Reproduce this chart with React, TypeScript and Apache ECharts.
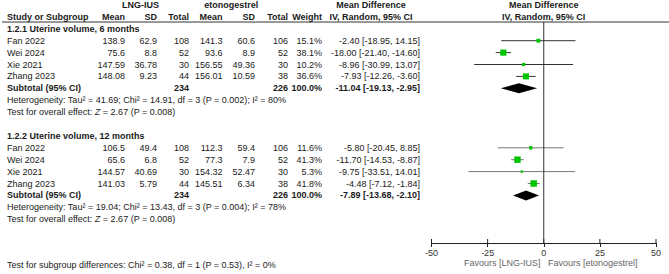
import React, { useEffect, useRef } from "react";
import * as echarts from "echarts";

// ---------- data ----------
const studies = ["Fan 2022", "Wei 2024", "Xie 2021", "Zhang 2023"];

const g1Title = "1.2.1 Uterine volume, 6 months";
const g1LngMean = [138.9, 75.6, 147.59, 148.08];
const g1LngSD = [62.9, 8.8, 36.78, 9.23];
const g1LngN = [108, 52, 30, 44];
const g1EtoMean = [141.3, 93.6, 156.55, 156.01];
const g1EtoSD = [60.6, 8.9, 49.36, 10.59];
const g1EtoN = [106, 52, 30, 38];
const g1Weight = [15.1, 38.1, 10.2, 36.6];
const g1MD = [-2.4, -18.0, -8.96, -7.93];
const g1Lo = [-18.95, -21.4, -30.99, -12.26];
const g1Hi = [14.15, -14.6, 13.07, -3.6];
const g1Sub = [-11.04, -19.13, -2.95];
const g1Het = "Heterogeneity: Tau² = 41.69; Chi² = 14.91, df = 3 (P = 0.002); I² = 80%";
const g1Overall = "Test for overall effect: {i|Z} = 2.67 (P = 0.008)";

const g2Title = "1.2.2 Uterine volume, 12 months";
const g2LngMean = [106.5, 65.6, 144.57, 141.03];
const g2LngSD = [49.4, 6.8, 40.69, 5.79];
const g2LngN = [108, 52, 30, 44];
const g2EtoMean = [112.3, 77.3, 154.32, 145.51];
const g2EtoSD = [59.4, 7.9, 52.47, 6.34];
const g2EtoN = [106, 52, 30, 38];
const g2Weight = [11.6, 41.3, 5.3, 41.8];
const g2MD = [-5.8, -11.7, -9.75, -4.48];
const g2Lo = [-20.45, -14.53, -33.51, -7.12];
const g2Hi = [8.85, -8.87, 14.01, -1.84];
const g2Sub = [-7.89, -13.68, -2.1];
const g2Het = "Heterogeneity: Tau² = 19.04; Chi² = 13.43, df = 3 (P = 0.004); I² = 78%";
const g2Overall = "Test for overall effect: {i|Z} = 2.67 (P = 0.008)";

const subgroupTest = "Test for subgroup differences: Chi² = 0.38, df = 1 (P = 0.53), I² = 0%";
const favLeft = "Favours [LNG-IUS]";
const favRight = "Favours [etonogestrel]";
const xTicks = [-50, -25, 0, 25, 50];

// ---------- layout ----------
const W = 669;
const H = 274;
const TOP = 5;
const ROW_H = 11.9;
const TABLE_ROWS = 22;
const AXIS_ROW = 20;
const HEADER_LINE_ROW = 1.43;
const PLOT_LEFT = 431.5;
const PLOT_WIDTH = 224.5;
const FONT = '"Liberation Sans", Arial, Helvetica, sans-serif';
const FS = 9;

const COL = {
  name: 7,
  m1: 125,
  sd1: 157,
  n1: 189,
  m2: 222.5,
  sd2: 255,
  n2: 288,
  w: 322,
  md: 420,
};

type Cell = {
  x: number;
  row: number;
  text: string;
  align: "left" | "right" | "center";
  bold?: boolean;
  color?: string;
};

const cells: Cell[] = [];
const push = (x: number, row: number, text: string, align: Cell["align"], bold = false, color = "#1a1a1a") =>
  cells.push({ x, row, text, align, bold, color });

// headers
push(140.5, 0, "LNG-IUS", "center", true);
push(231.3, 0, "etonogestrel", "center", true);
push(371, 0, "Mean Difference", "center", true);
push(543.7, 0, "Mean Difference", "center", true);
push(COL.name, 1, "Study or Subgroup", "left", true);
push(COL.m1, 1, "Mean", "right", true);
push(COL.sd1, 1, "SD", "right", true);
push(COL.n1, 1, "Total", "right", true);
push(COL.m2, 1, "Mean", "right", true);
push(COL.sd2, 1, "SD", "right", true);
push(COL.n2, 1, "Total", "right", true);
push(COL.w, 1, "Weight", "right", true);
push(371, 1, "IV, Random, 95% CI", "center", true);
push(543.7, 1, "IV, Random, 95% CI", "center", true);

const fmtCI = (m: number, l: number, h: number) => `${m.toFixed(2)} [${l.toFixed(2)}, ${h.toFixed(2)}]`;
const sum = (a: number[]) => a.reduce((s, v) => s + v, 0);

type Group = {
  title: string; start: number;
  lm: number[]; lsd: number[]; ln: number[];
  em: number[]; esd: number[]; en: number[];
  w: number[]; md: number[]; lo: number[]; hi: number[];
  sub: number[]; het: string; overall: string; ciColor: string;
};

const groups: Group[] = [
  { title: g1Title, start: 2, lm: g1LngMean, lsd: g1LngSD, ln: g1LngN, em: g1EtoMean, esd: g1EtoSD, en: g1EtoN,
    w: g1Weight, md: g1MD, lo: g1Lo, hi: g1Hi, sub: g1Sub, het: g1Het, overall: g1Overall, ciColor: "#333" },
  { title: g2Title, start: 11, lm: g2LngMean, lsd: g2LngSD, ln: g2LngN, em: g2EtoMean, esd: g2EtoSD, en: g2EtoN,
    w: g2Weight, md: g2MD, lo: g2Lo, hi: g2Hi, sub: g2Sub, het: g2Het, overall: g2Overall, ciColor: "#777" },
];

const studyMarks: any[][] = []; // [md, row, lo, hi, weight, color]
const diamonds: number[][] = []; // [md, row, lo, hi]

groups.forEach((g) => {
  push(COL.name, g.start, g.title, "left", true);
  studies.forEach((s, i) => {
    const r = g.start + 1 + i;
    push(COL.name, r, s, "left");
    push(COL.m1, r, String(g.lm[i]), "right");
    push(COL.sd1, r, String(g.lsd[i]), "right");
    push(COL.n1, r, String(g.ln[i]), "right");
    push(COL.m2, r, String(g.em[i]), "right");
    push(COL.sd2, r, String(g.esd[i]), "right");
    push(COL.n2, r, String(g.en[i]), "right");
    push(COL.w, r, g.w[i].toFixed(1) + "%", "right");
    push(COL.md, r, fmtCI(g.md[i], g.lo[i], g.hi[i]), "right");
    studyMarks.push([g.md[i], r, g.lo[i], g.hi[i], g.w[i], g.ciColor]);
  });
  const sr = g.start + 1 + studies.length;
  push(COL.name, sr, "Subtotal (95% CI)", "left", true);
  push(COL.n1, sr, String(sum(g.ln)), "right", true);
  push(COL.n2, sr, String(sum(g.en)), "right", true);
  push(COL.w, sr, sum(g.w).toFixed(1) + "%", "right", true);
  push(COL.md, sr, fmtCI(g.sub[0], g.sub[1], g.sub[2]), "right", true);
  diamonds.push([g.sub[0], sr, g.sub[1], g.sub[2]]);
  push(COL.name, sr + 1, g.het, "left");
  push(COL.name, sr + 2, g.overall, "left");
});

push(COL.name, 21.85, subgroupTest, "left");
push(540.5, 21.7, favLeft, "right", false, "#666");
push(548, 21.7, favRight, "left", false, "#666");

// ---------- component ----------
export default function App() {
  const ref = useRef<HTMLDivElement>(null);

  useEffect(() => {
    if (!ref.current) return;
    const chart = echarts.init(ref.current, undefined, { renderer: "svg" });

    const option: any = {
      animation: false,
      backgroundColor: "#fff",
      grid: [
        { left: 0, top: TOP, width: W, height: TABLE_ROWS * ROW_H, containLabel: false },
        { left: PLOT_LEFT, top: TOP, width: PLOT_WIDTH, height: AXIS_ROW * ROW_H, containLabel: false },
      ],
      xAxis: [
        { gridIndex: 0, type: "value", min: 0, max: W, show: false },
        {
          gridIndex: 1, type: "value", min: -50, max: 50, interval: 25, position: "bottom",
          axisLine: { show: true, onZero: false, lineStyle: { color: "#222", width: 1 } },
          axisTick: { show: true, length: 4, lineStyle: { color: "#222", width: 1 } },
          axisLabel: {
            show: true, color: "#333", fontSize: FS, fontFamily: FONT, margin: 5,
            formatter: (v: number) => (xTicks.includes(v) ? String(v) : ""),
          },
          splitLine: { show: false },
        },
      ],
      yAxis: [
        { gridIndex: 0, type: "value", min: 0, max: TABLE_ROWS, inverse: true, show: false },
        { gridIndex: 1, type: "value", min: 0, max: AXIS_ROW, inverse: true, show: false },
      ],
      series: [
        // header rule
        {
          type: "line", xAxisIndex: 0, yAxisIndex: 0, silent: true, symbol: "none",
          data: [[2, HEADER_LINE_ROW], [W, HEADER_LINE_ROW]],
          lineStyle: { color: "#333", width: 1 },
        },
        // zero line
        {
          type: "line", xAxisIndex: 1, yAxisIndex: 1, silent: true, symbol: "none",
          data: [[0, HEADER_LINE_ROW], [0, AXIS_ROW]],
          lineStyle: { color: "#333", width: 1 },
        },
        // upper halves of the axis ticks (ticks cross the axis line)
        {
          type: "custom", xAxisIndex: 1, yAxisIndex: 1, silent: true,
          data: xTicks.map((t) => [t, AXIS_ROW]),
          renderItem: (params: any, api: any) => {
            const p = api.coord([xTicks[params.dataIndex], AXIS_ROW]);
            return {
              type: "line",
              shape: { x1: p[0], y1: p[1] - 4, x2: p[0], y2: p[1] },
              style: { stroke: "#222", lineWidth: 1 },
            };
          },
        },
        // study CIs and squares
        {
          type: "custom", xAxisIndex: 1, yAxisIndex: 1, silent: true,
          data: studyMarks.map((d) => [d[0], d[1]]),
          renderItem: (params: any, api: any) => {
            const d = studyMarks[params.dataIndex];
            const c = api.coord([d[0], d[1]]);
            const l = api.coord([d[2], d[1]]);
            const h = api.coord([d[3], d[1]]);
            const s = Math.sqrt(d[4]);
            return {
              type: "group",
              children: [
                { type: "line", shape: { x1: l[0], y1: c[1], x2: h[0], y2: c[1] }, style: { stroke: d[5], lineWidth: 1 } },
                { type: "rect", shape: { x: c[0] - s / 2, y: c[1] - s / 2, width: s, height: s }, style: { fill: "#00c400" } },
              ],
            };
          },
        },
        // diamonds
        {
          type: "custom", xAxisIndex: 1, yAxisIndex: 1, silent: true,
          data: diamonds.map((d) => [d[0], d[1]]),
          renderItem: (params: any, api: any) => {
            const d = diamonds[params.dataIndex];
            const c = api.coord([d[0], d[1]]);
            const l = api.coord([d[2], d[1]]);
            const h = api.coord([d[3], d[1]]);
            const hh = 5;
            return {
              type: "polygon",
              shape: { points: [[l[0], c[1]], [c[0], c[1] - hh], [h[0], c[1]], [c[0], c[1] + hh]] },
              style: { fill: "#000" },
            };
          },
        },
        // table text
        {
          type: "custom", xAxisIndex: 0, yAxisIndex: 0, silent: true,
          data: cells.map((c) => [c.x, c.row]),
          renderItem: (params: any, api: any) => {
            const c = cells[params.dataIndex];
            const p = api.coord([c.x, c.row]);
            return {
              type: "text",
              x: p[0],
              y: p[1],
              style: {
                text: c.text,
                fill: c.color,
                fontSize: FS,
                fontFamily: FONT,
                fontWeight: c.bold ? "bold" : "normal",
                align: c.align,
                verticalAlign: "middle",
                textAlign: c.align,
                textVerticalAlign: "middle",
                rich: {
                  i: { fontStyle: "italic", fontSize: FS, fontFamily: FONT, fill: c.color, color: c.color },
                },
              },
            };
          },
        },
      ],
    };

    chart.setOption(option);
    return () => chart.dispose();
  }, []);

  return (
    <div
      ref={ref}
      style={{ position: "fixed", left: 0, top: 0, width: W, height: H, background: "#fff" }}
    />
  );
}
